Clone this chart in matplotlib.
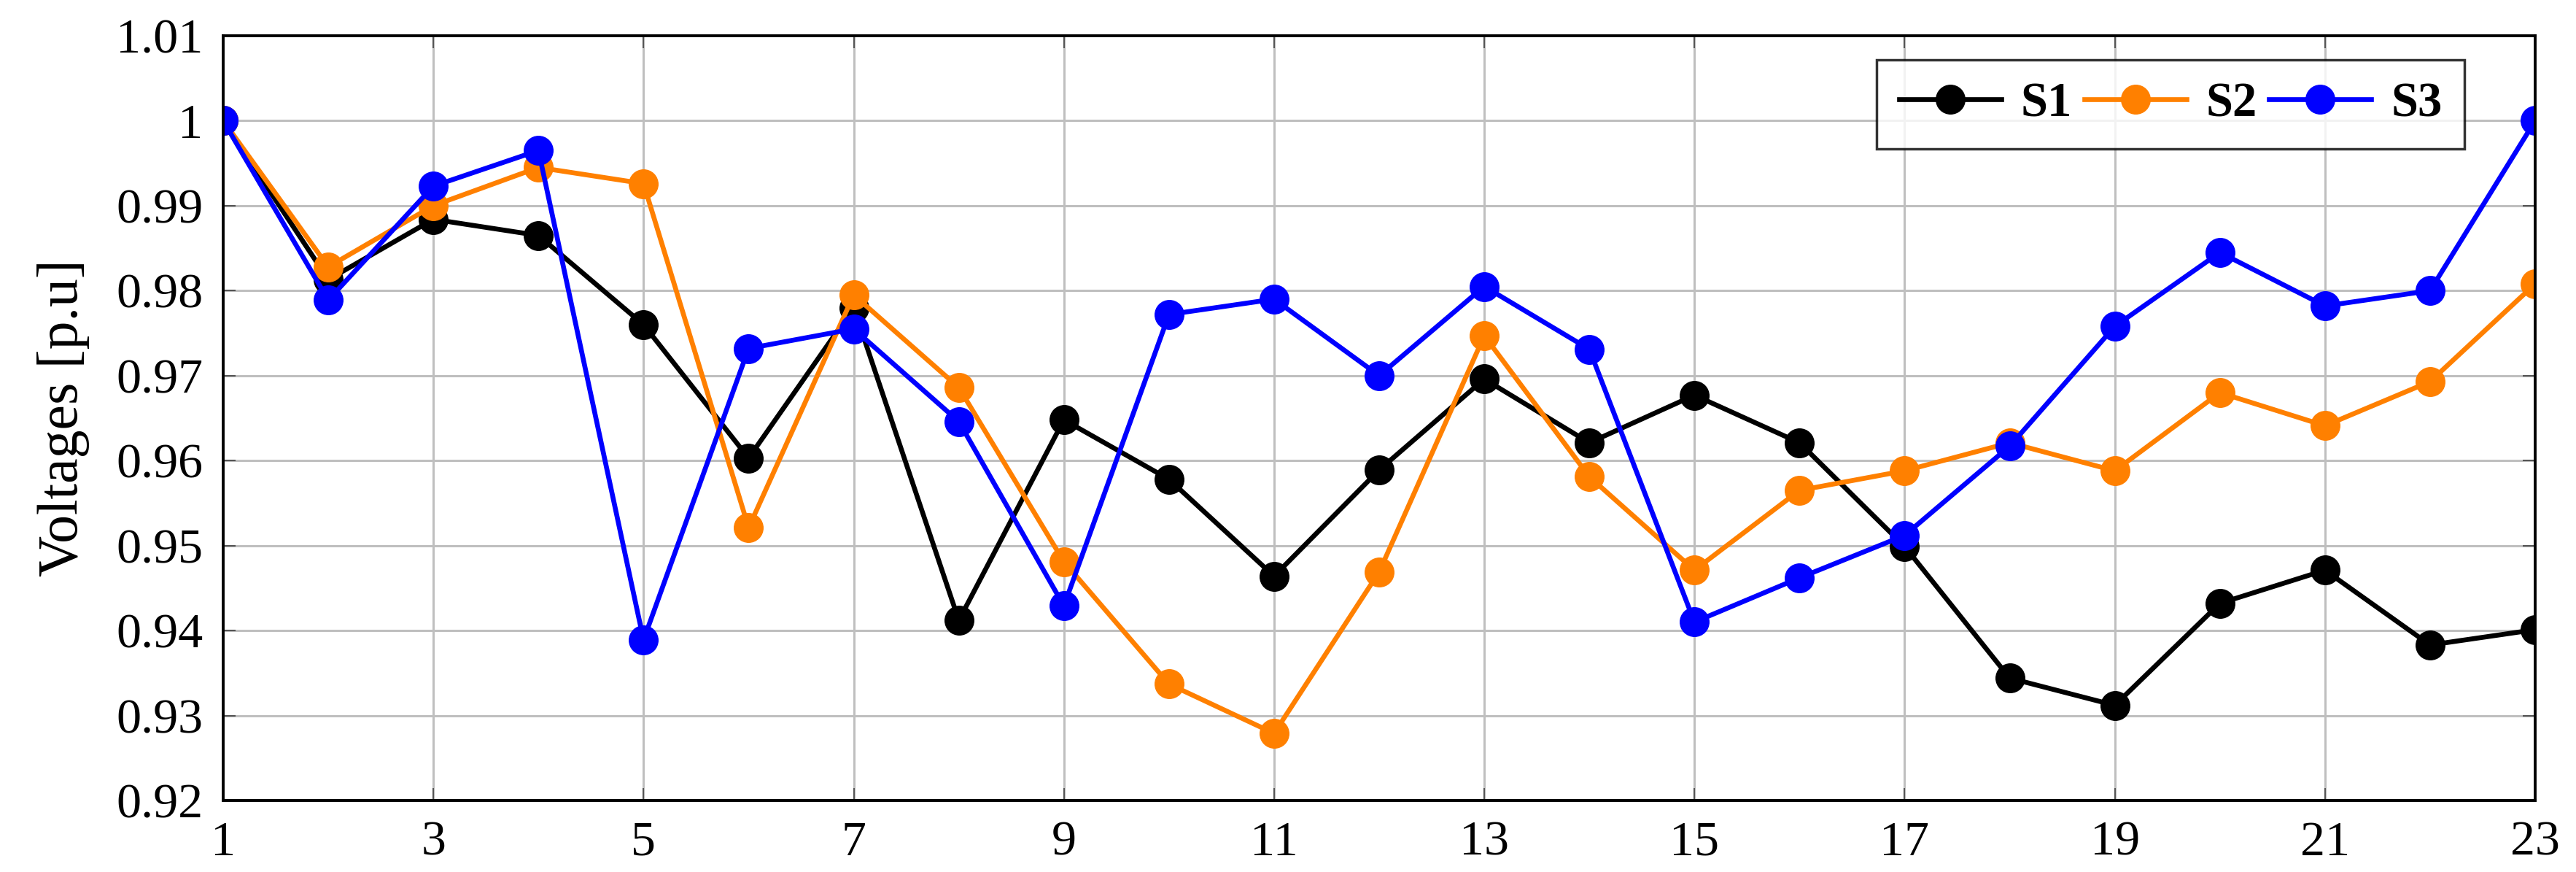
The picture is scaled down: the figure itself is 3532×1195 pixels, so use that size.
import numpy as np
import matplotlib
matplotlib.use("Agg")
from matplotlib import pyplot as plt
from matplotlib.ticker import FuncFormatter

plt.rcParams['font.family'] = 'serif'
plt.rcParams['font.serif'] = ['Liberation Serif', 'DejaVu Serif']

# bus numbers
buses = np.arange(1, 24)

# voltage profiles [p.u]
s1 = [1.0, 0.9813, 0.9884, 0.9865, 0.9760, 0.9603, 0.9780, 0.9412, 0.9648, 0.9578,
      0.9464, 0.9589, 0.9696, 0.9621, 0.9677, 0.9621, 0.9499, 0.9344, 0.9312, 0.9432,
      0.9471, 0.9383, 0.9401]
s2 = [1.0, 0.9828, 0.9900, 0.9945, 0.9926, 0.9521, 0.9795, 0.9686, 0.9481, 0.9337,
      0.9279, 0.9469, 0.9747, 0.9581, 0.9471, 0.9565, 0.9588, 0.9621, 0.9588, 0.9680,
      0.9641, 0.9693, 0.9808]
s3 = [1.0, 0.9789, 0.9923, 0.9965, 0.9389, 0.9732, 0.9755, 0.9646, 0.9429, 0.9772,
      0.9790, 0.9700, 0.9805, 0.9731, 0.9410, 0.9462, 0.9512, 0.9617, 0.9758, 0.9845,
      0.9782, 0.9800, 1.0]
labels = ['S1', 'S2', 'S3']
colors = ['black', '#ff8000', '#0000ff']

xticks = np.arange(1, 24, 2)
yticks = np.arange(0.92, 1.0101, 0.01)

fig = plt.figure(figsize=(35.32, 11.95), dpi=100)
ax = fig.add_axes([306/3532, 1 - 1097/1195, (3476-306)/3532, (1097-49)/1195])

for ys, lab, c in zip([s1, s2, s3], labels, colors):
    ax.plot(buses, ys, color=c, lw=4.8, marker='o', ms=28.5, label=lab)

ax.set_xlim(1, 23)
ax.set_ylim(0.92, 1.01)
ax.set_xticks(xticks)
ax.set_yticks(yticks)
ax.yaxis.set_major_formatter(FuncFormatter(lambda v, p: f"{round(v, 2):g}"))
ax.grid(True, color='#bfbfbf', lw=2.2)
ax.set_axisbelow(True)
ax.tick_params(direction='in', length=12, width=1.5, color='#555555',
               labelsize=49, top=True, right=True, pad=20)
for sp in ax.spines.values():
    sp.set_linewidth(2.8)

ax.set_ylabel('Voltages [p.u]', fontsize=56, labelpad=26)

leg = ax.legend(loc='upper right', ncol=3, fontsize=48, frameon=True, fancybox=False,
                edgecolor='black', handlelength=2.1, columnspacing=0.25,
                handletextpad=0.4, borderpad=0.46, borderaxespad=0,
                bbox_to_anchor=((3379-306)/3170, (1097-82)/1048))
leg.get_frame().set_linewidth(2.5)
for t in leg.get_texts():
    t.set_fontweight('bold')

fig.savefig('out.png', dpi=100)
